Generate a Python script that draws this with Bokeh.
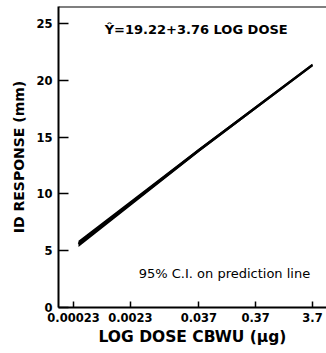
from bokeh.plotting import figure
from bokeh.models import Range1d, Span, Label, FixedTicker
from bokeh.embed import file_html
from bokeh.resources import INLINE

# data (log10 dose on x)
dose_labels = ["0.00023", "0.0023", "0.037", "0.37", "3.7"]
dose_ticks = [-3.638, -2.638, -1.432, -0.432, 0.568]
y_ticks = [0, 5, 10, 15, 20, 25]

fit_x = [-3.55, -1.43, 0.568]
fit_y = [5.6, 13.85, 21.35]
ci_half = [0.28, 0.15, 0.12]

lower = [a - b for a, b in zip(fit_y, ci_half)]
upper = [a + b for a, b in zip(fit_y, ci_half)]

FONT = "DejaVu Sans"

p = figure(width=326, height=353, output_backend="svg", toolbar_location=None,
           x_range=Range1d(-3.902, 0.815), y_range=Range1d(0, 26.5),
           min_border_left=58, min_border_right=0, min_border_top=6, min_border_bottom=46)
p.outline_line_color = None
p.grid.grid_line_color = None
p.background_fill_color = "white"
p.border_fill_color = "white"

p.varea(x=fit_x, y1=lower, y2=upper, fill_color="black")
p.line(x=fit_x, y=fit_y, line_color="black", line_width=2.5)

p.add_layout(Span(location=26.5, dimension="width", line_color="black", line_width=2))

for ax in (p.xaxis[0], p.yaxis[0]):
    ax.axis_line_width = 2
    ax.axis_line_color = "black"
    ax.major_tick_line_width = 1.5
    ax.major_tick_out = 0
    ax.minor_tick_line_color = None
    ax.major_label_text_font = FONT
    ax.major_label_text_font_style = "bold"
    ax.major_label_text_font_size = "11.5px"
    ax.major_label_text_color = "black"
    ax.axis_label_text_font = FONT
    ax.axis_label_text_font_style = "bold"
    ax.axis_label_text_color = "black"

p.xaxis.ticker = FixedTicker(ticks=dose_ticks)
p.xaxis.major_label_overrides = {t: l for t, l in zip(dose_ticks, dose_labels)}
p.xaxis.major_tick_in = 6
p.xaxis.major_label_standoff = 5
p.xaxis.axis_label = "LOG DOSE CBWU (μg)"
p.xaxis.axis_label_text_font_size = "15.5px"
p.xaxis.axis_label_standoff = 3

p.yaxis.ticker = FixedTicker(ticks=y_ticks)
p.yaxis.major_tick_in = 10
p.yaxis.major_label_standoff = 6
p.yaxis.axis_label = "ID RESPONSE (mm)"
p.yaxis.axis_label_text_font_size = "14px"
p.yaxis.axis_label_standoff = 6

p.add_layout(Label(x=-3.09, y=24.5, text="Ŷ=19.22+3.76 LOG DOSE",
                   text_font=FONT, text_font_style="bold", text_font_size="13px",
                   text_baseline="middle", text_color="black"))
p.add_layout(Label(x=-2.49, y=3.0, text="95% C.I. on prediction line",
                   text_font=FONT, text_font_size="13px",
                   text_baseline="middle", text_color="black"))

open("out.html", "w").write(file_html(p, INLINE))
